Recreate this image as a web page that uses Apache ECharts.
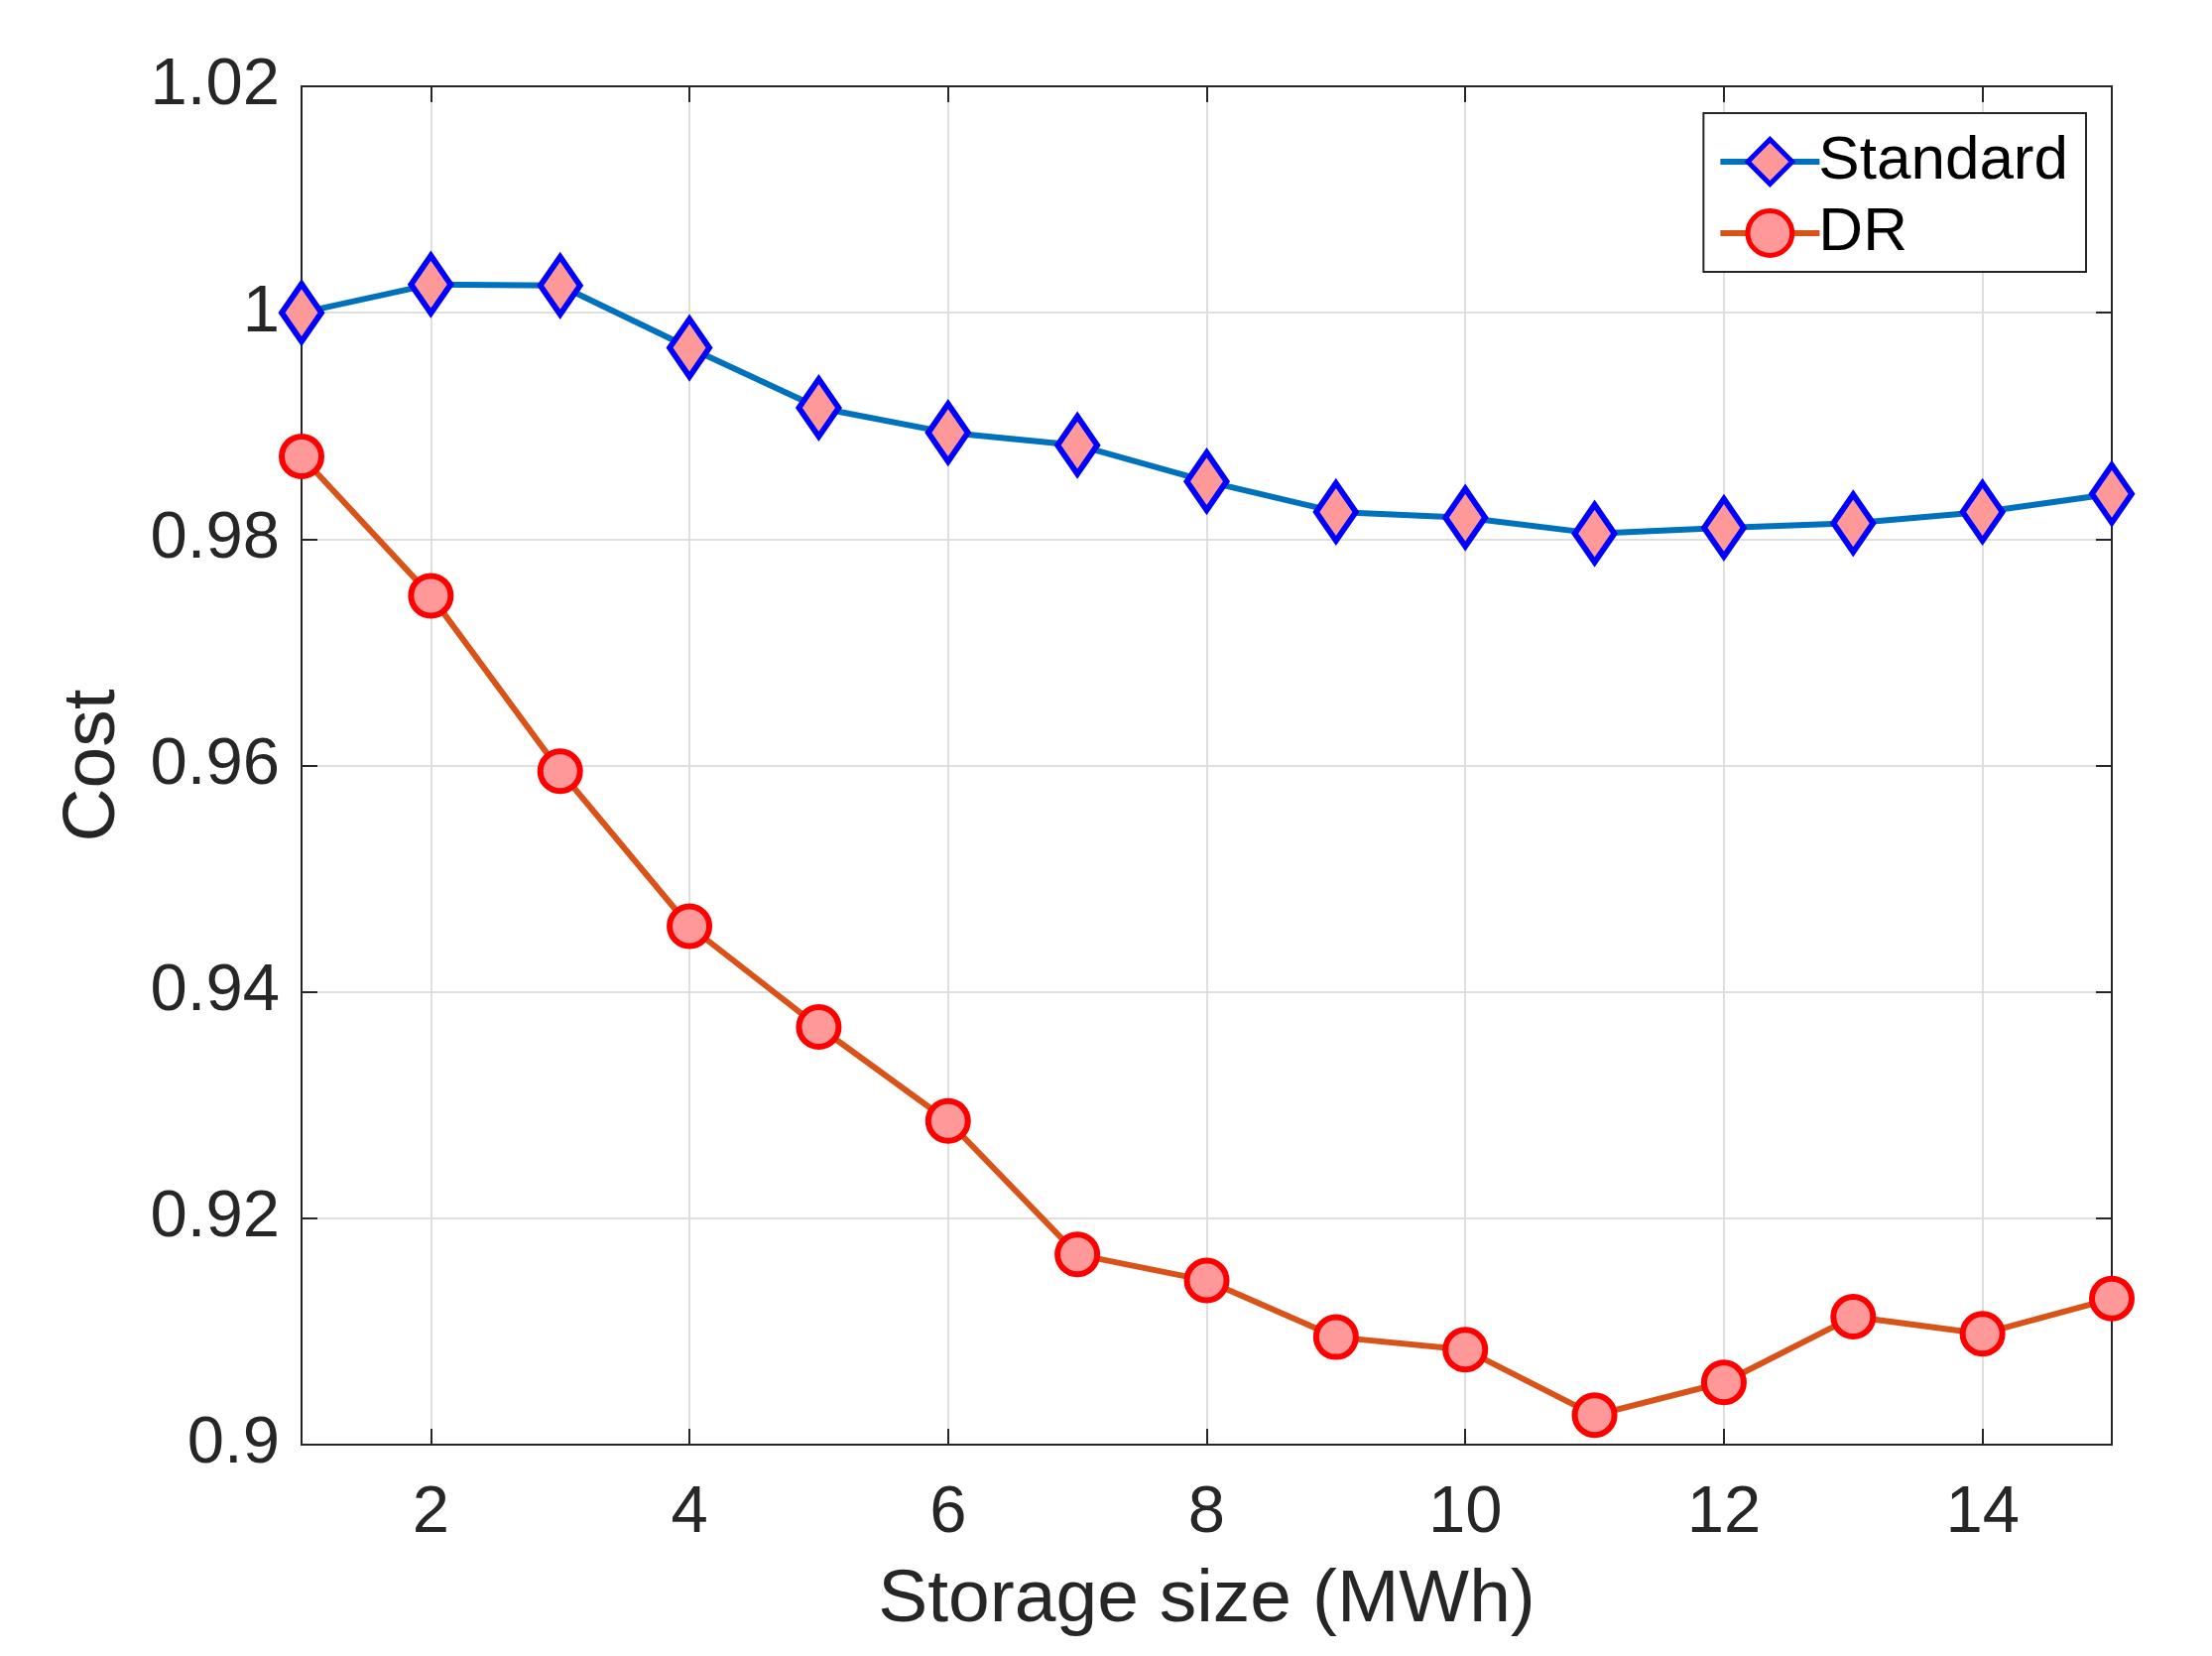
<!DOCTYPE html>
<html>
<head>
<meta charset="utf-8">
<script src="https://cdn.jsdelivr.net/npm/echarts@6/dist/echarts.min.js"></script>
<style>
    html, body { margin: 0; padding: 0; background: #fff; }
    #chart { width: 2230px; height: 1669px; }
</style>
</head>
<body>
<div id="chart"></div>
<script>
    // storage size (MWh)
    var sizes = [1, 2, 3, 4, 5, 6, 7, 8, 9, 10, 11, 12, 13, 14, 15];
    var standardCost = [1.0000, 1.0025, 1.0024, 0.9969, 0.9916, 0.9894, 0.9883, 0.9851, 0.9824, 0.9819, 0.9805, 0.9810, 0.9814, 0.9824, 0.9840];
    var drCost = [0.9873, 0.9750, 0.9595, 0.9458, 0.9369, 0.9286, 0.9168, 0.9145, 0.9095, 0.9084, 0.9026, 0.9055, 0.9113, 0.9098, 0.9129];
    var xTicks = [2, 4, 6, 8, 10, 12, 14];
    var yTickLabels = ['0.9', '0.92', '0.94', '0.96', '0.98', '1', '1.02'];

    function pairs(ys) {
        return sizes.map(function (x, i) { return [x, ys[i]]; });
    }

    var txt = '#262626';
    var font = 'Liberation Sans, Arial, Helvetica, sans-serif';

    var chart = echarts.init(document.getElementById('chart'));
    chart.setOption({
        backgroundColor: '#fff',
        animation: false,
        grid: { left: 304, right: 101, top: 87, bottom: 213 },
        legend: {
            orient: 'vertical',
            right: 127,
            top: 114,
            itemWidth: 100,
            itemHeight: 56,
            itemGap: 10,
            padding: [18, 18, 8, 14],
            borderColor: txt,
            borderWidth: 2,
            backgroundColor: '#fff',
            lineStyle: { width: 6 },
            itemStyle: { borderWidth: 5 },
            textStyle: { fontFamily: font, fontSize: 62, color: '#000', padding: [0, 0, 0, -6] },
            data: ['Standard', 'DR']
        },
        xAxis: [{
            type: 'value',
            min: 1,
            max: 15,
            name: 'Storage size (MWh)',
            nameLocation: 'middle',
            nameGap: 120,
            nameTextStyle: { fontFamily: font, fontSize: 75, color: txt },
            axisLine: { lineStyle: { color: txt, width: 2 } },
            axisTick: { inside: true, length: 16, customValues: xTicks, lineStyle: { color: txt, width: 2 } },
            axisLabel: { customValues: xTicks, margin: 36, fontFamily: font, fontSize: 67, color: txt },
            splitLine: { show: true, lineStyle: { color: '#dfdfdf', width: 2 } }
        }, {
            type: 'value',
            position: 'top',
            min: 1,
            max: 15,
            axisLine: { show: true, lineStyle: { color: txt, width: 2 } },
            axisTick: { inside: true, length: 16, customValues: xTicks, lineStyle: { color: txt, width: 2 } },
            axisLabel: { show: false },
            splitLine: { show: false }
        }],
        yAxis: [{
            type: 'value',
            min: 0.9,
            max: 1.02,
            interval: 0.02,
            name: 'Cost',
            nameLocation: 'middle',
            nameGap: 172,
            nameTextStyle: { fontFamily: font, fontSize: 75, color: txt },
            axisLine: { show: true, lineStyle: { color: txt, width: 2 } },
            axisTick: { inside: true, length: 16, lineStyle: { color: txt, width: 2 } },
            axisLabel: {
                margin: 22,
                fontFamily: font,
                fontSize: 67,
                color: txt,
                formatter: function (v) {
                    var i = Math.round((v - 0.9) / 0.02);
                    return yTickLabels[i];
                }
            },
            splitLine: { show: true, lineStyle: { color: '#dfdfdf', width: 2 } }
        }, {
            type: 'value',
            position: 'right',
            min: 0.9,
            max: 1.02,
            interval: 0.02,
            axisLine: { show: true, lineStyle: { color: txt, width: 2 } },
            axisTick: { inside: true, length: 16, lineStyle: { color: txt, width: 2 } },
            axisLabel: { show: false },
            splitLine: { show: false }
        }],
        series: [{
            name: 'Standard',
            type: 'line',
            data: pairs(standardCost),
            symbol: 'diamond',
            symbolSize: [40, 58],
            lineStyle: { color: '#0072BD', width: 6 },
            itemStyle: { color: '#FF9999', borderColor: '#0000FF', borderWidth: 6 },
            z: 3
        }, {
            name: 'DR',
            type: 'line',
            data: pairs(drCost),
            symbol: 'circle',
            symbolSize: 40,
            lineStyle: { color: '#D95319', width: 6 },
            itemStyle: { color: '#FF9999', borderColor: '#FF0000', borderWidth: 6 },
            z: 3
        }]
    });
</script>
</body>
</html>
